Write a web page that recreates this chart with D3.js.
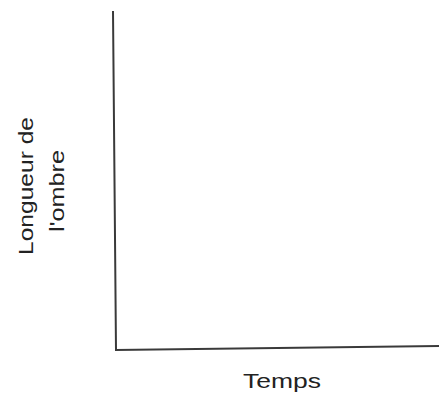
<!DOCTYPE html>
<html>
<head>
<meta charset="utf-8">
<script src="https://cdn.jsdelivr.net/npm/d3@7"></script>
<style>
html,body{margin:0;padding:0;background:#fff;}
svg{display:block;}
</style>
</head>
<body>
<svg id="chart" width="439" height="403"></svg>
<script>
// Empty chart: only axis titles, no data series
const xTitle = "Temps";
const yTitleLines = ["Longueur de", "l'ombre"];
const xDomain = [0, 1];
const yDomain = [0, 1];

const W = 439, H = 403;
const svg = d3.select("#chart");
svg.append("rect").attr("width", W).attr("height", H).attr("fill", "#fff");

const x = d3.scaleLinear().domain(xDomain).range([116, 439]);
const y = d3.scaleLinear().domain(yDomain).range([350, 11]);

// axes drawn as a single polyline (slight scan skew as in reference)
const axisPath = d3.path();
axisPath.moveTo(x(0) - 3, y(1));
axisPath.lineTo(x(0), y(0));
axisPath.lineTo(x(1), y(0) - 4);
svg.append("path")
  .attr("d", axisPath.toString())
  .attr("fill", "none")
  .attr("stroke", "#3a3a3a")
  .attr("stroke-width", 2)
  .attr("stroke-linejoin", "miter");

const font = "Liberation Sans, Arial, sans-serif";

// x title
svg.append("text")
  .attr("x", 282).attr("y", 388)
  .attr("text-anchor", "middle")
  .attr("font-family", font)
  .attr("font-size", 21)
  .attr("fill", "#222")
  .attr("textLength", 78)
  .attr("lengthAdjust", "spacingAndGlyphs")
  .text(xTitle);

// y title (two lines, rotated)
const yLens = [138, 82];
const yBase = [33, 64];
const yCenter = [186, 191];
yTitleLines.forEach((t, i) => {
  svg.append("text")
    .attr("transform", `translate(${yBase[i]},${yCenter[i]}) rotate(-90)`)
    .attr("text-anchor", "middle")
    .attr("font-family", font)
    .attr("font-size", 21)
    .attr("fill", "#222")
    .attr("textLength", yLens[i])
    .attr("lengthAdjust", "spacingAndGlyphs")
    .text(t);
});
</script>
</body>
</html>
